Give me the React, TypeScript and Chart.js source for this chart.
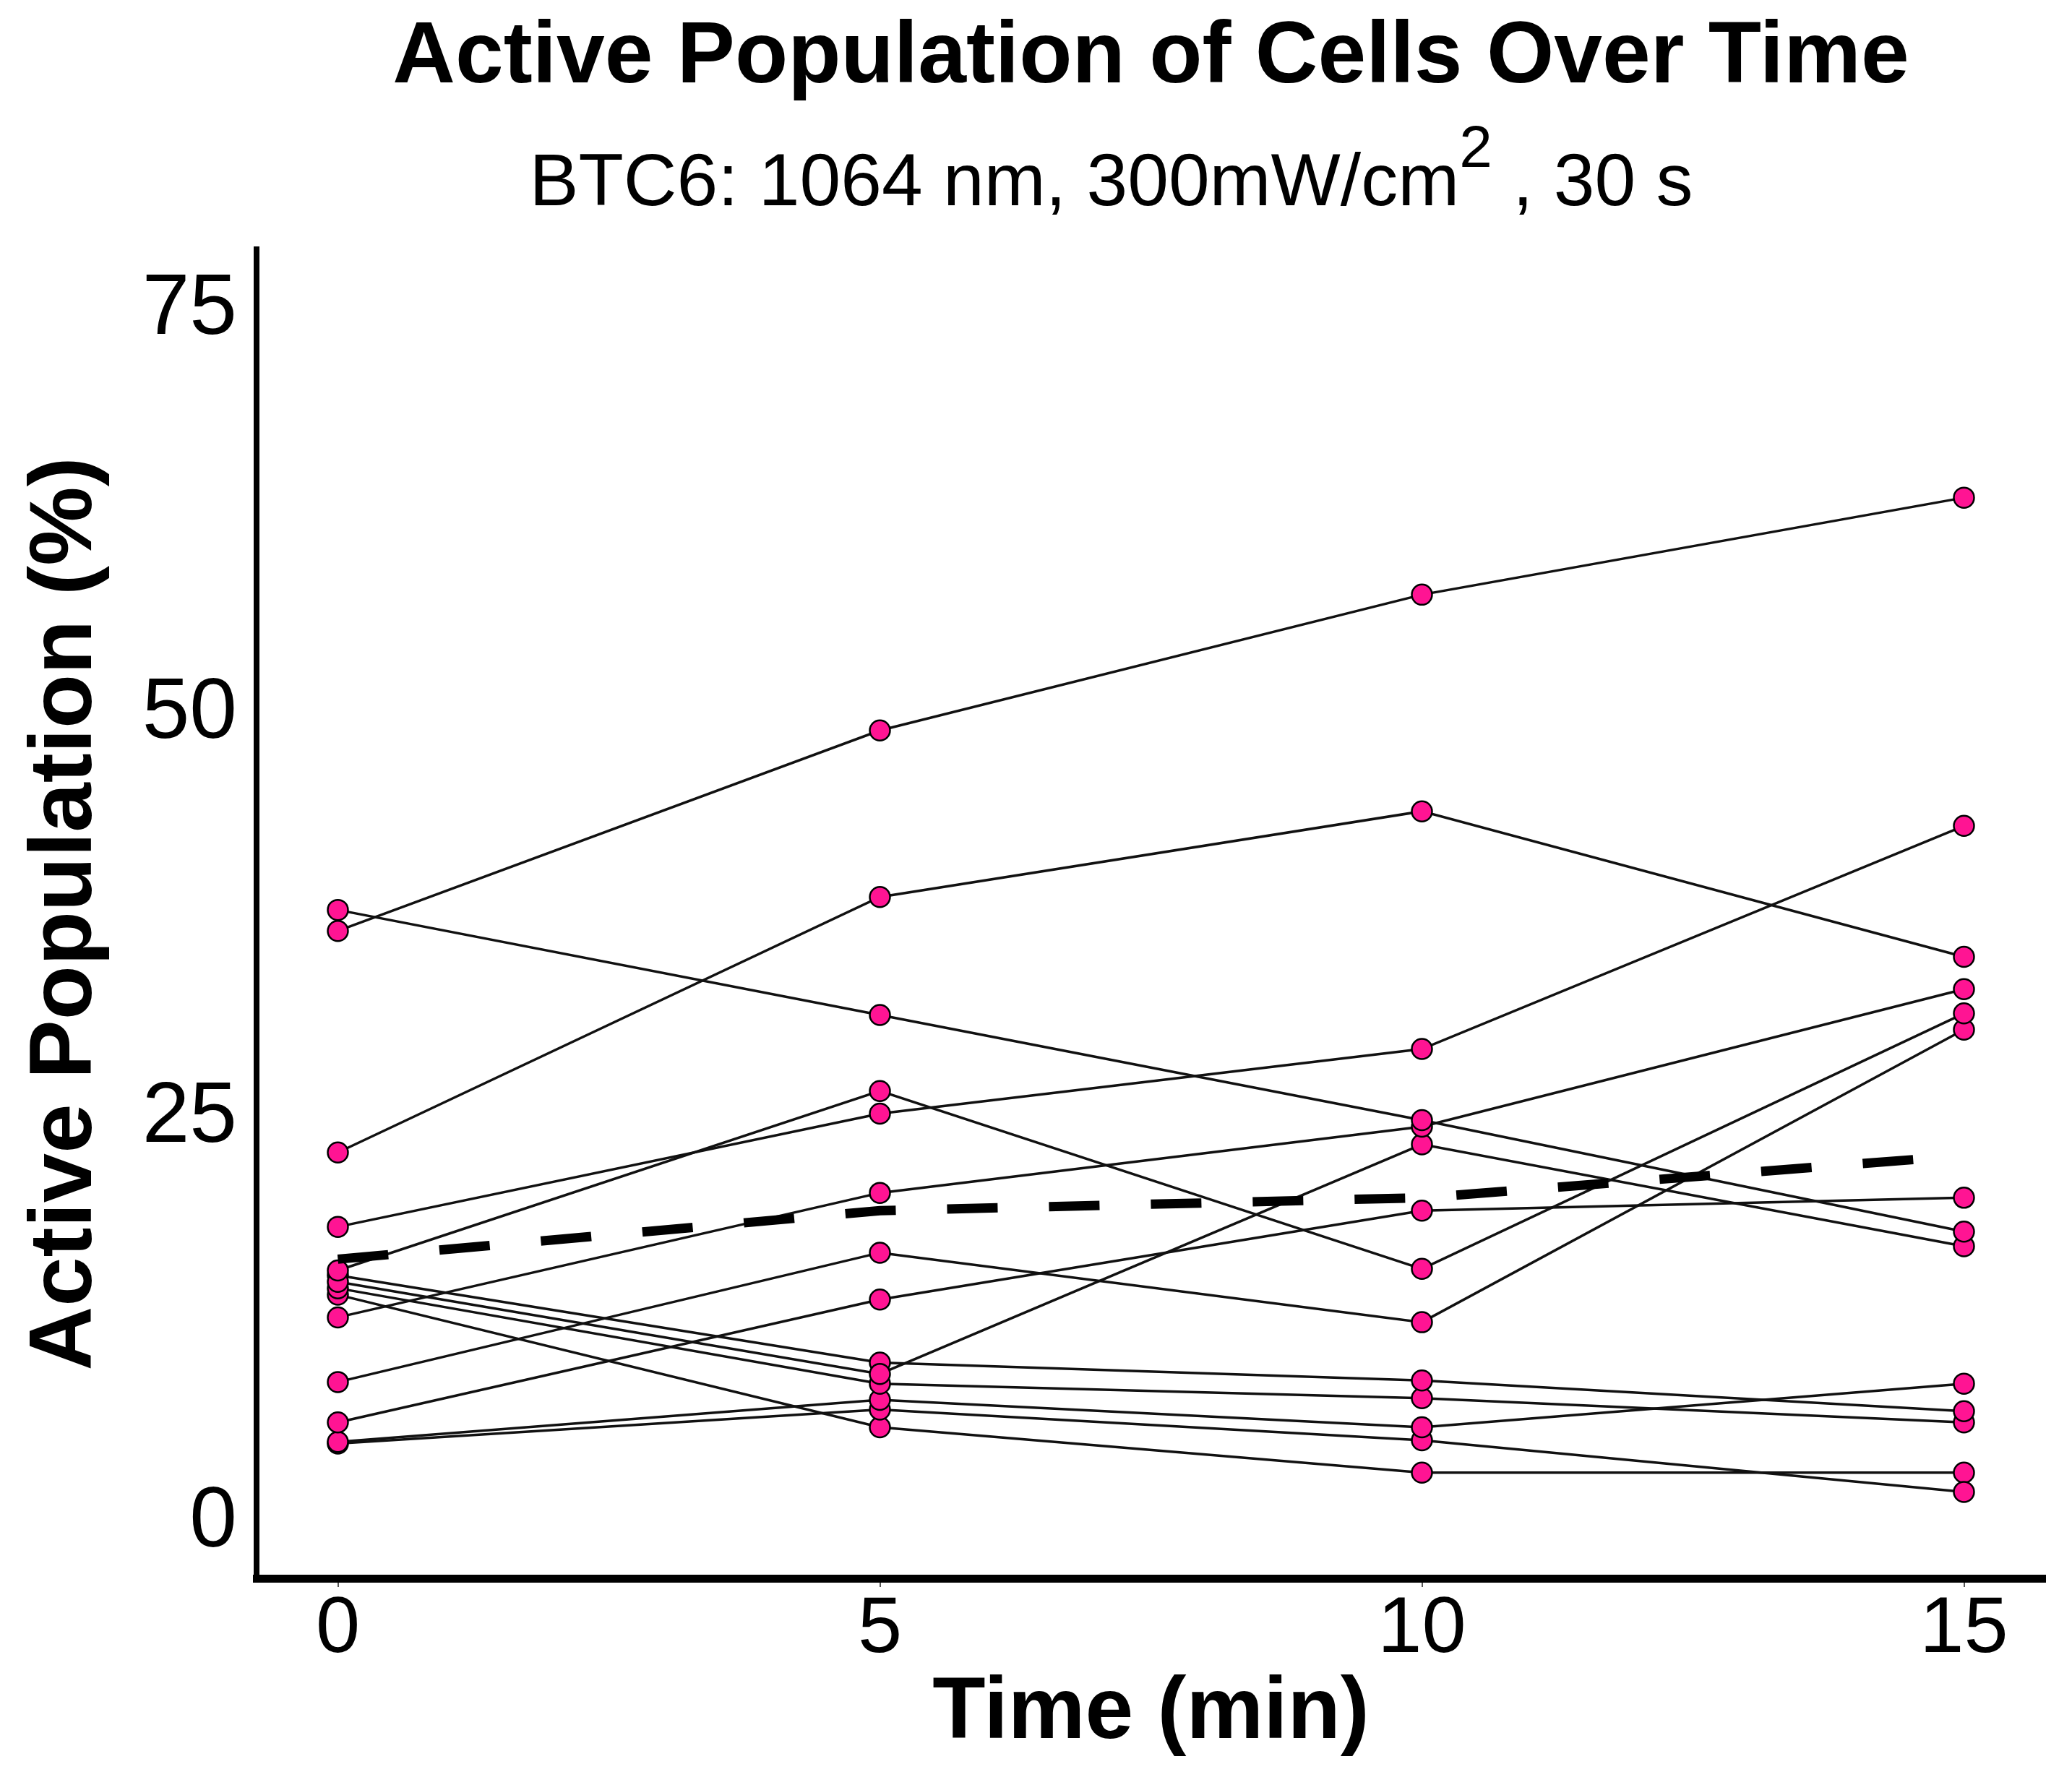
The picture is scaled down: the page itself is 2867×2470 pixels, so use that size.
import React, { useEffect, useRef } from "react";
import { Chart, registerables } from "chart.js";

Chart.register(...registerables);

// ---- data ----
const timePoints = [0, 5, 10, 15];
const xTickValues = [0, 5, 10, 15];
const yTickValues = [0, 25, 50, 75];

const cell01 = [36.6, 49.0, 57.4, 63.4];
const cell02 = [37.9, 31.4, 24.9, 18.0];
const cell03 = [18.3, 25.3, 29.3, 43.1];
const cell04 = [22.9, 38.7, 44.0, 35.0];
const cell05 = [15.6, 26.7, 15.7, 31.5];
const cell06 = [12.7, 20.4, 24.5, 33.0];
const cell07 = [8.7, 16.7, 12.4, 30.5];
const cell08 = [6.2, 13.8, 19.3, 20.1];
const cell09 = [14.9, 9.2, 23.4, 17.1];
const cell10 = [15.3, 9.9, 8.8, 6.9];
const cell11 = [14.5, 8.6, 7.7, 6.2];
const cell12 = [5.0, 7.6, 5.9, 8.6];
const cell13 = [4.9, 7.0, 5.1, 1.9];
const cell14 = [14.1, 5.9, 3.1, 3.1];
const meanValues = [16.3, 19.3, 20.1, 22.7];

const cellSeries = [
  cell01, cell02, cell03, cell04, cell05, cell06, cell07,
  cell08, cell09, cell10, cell11, cell12, cell13, cell14,
];

const titleText = "Active Population of Cells Over Time";
const subtitleParts = ["BTC6: 1064 nm, 300mW/cm", "2", " , 30 s"];
const xTitle = "Time (min)";
const yTitle = "Active Population (%)";

const FONT = '"Liberation Sans", Arial, Helvetica, sans-serif';

const toPoints = (vals: number[]) => vals.map((v, i) => ({ x: timePoints[i], y: v }));

const subtitlePlugin = {
  id: "superscriptSubtitle",
  afterDraw(chart: any) {
    const ctx = chart.ctx as CanvasRenderingContext2D;
    const area = chart.chartArea;
    ctx.save();
    const mainFont = `102px ${FONT}`;
    const supFont = `82px ${FONT}`;
    ctx.font = mainFont;
    const wA = ctx.measureText(subtitleParts[0]).width;
    const wB = ctx.measureText(subtitleParts[2]).width;
    ctx.font = supFont;
    const wS = ctx.measureText(subtitleParts[1]).width;
    const total = wA + wS + wB;
    const cx = (area.left + area.right) / 2 - 55;
    let x = cx - total / 2;
    const baseline = 284;
    ctx.fillStyle = "#000";
    ctx.textAlign = "left";
    ctx.textBaseline = "alphabetic";
    ctx.font = mainFont;
    ctx.fillText(subtitleParts[0], x, baseline);
    x += wA;
    ctx.font = supFont;
    ctx.fillText(subtitleParts[1], x, baseline - 53);
    x += wS;
    ctx.font = mainFont;
    ctx.fillText(subtitleParts[2], x, baseline);
    ctx.restore();
  },
};

export default function App() {
  const ref = useRef<HTMLCanvasElement>(null);

  useEffect(() => {
    if (!ref.current) return;
    const datasets: any[] = cellSeries.map((vals, i) => ({
      label: `Cell ${i + 1}`,
      data: toPoints(vals),
      borderColor: "#111",
      borderWidth: 3.5,
      pointRadius: 14,
      pointBackgroundColor: "#ff1493",
      pointBorderColor: "#000",
      pointBorderWidth: 2.5,
      fill: false,
      tension: 0,
      order: 1,
    }));
    datasets.push({
      label: "Mean",
      data: toPoints(meanValues),
      borderColor: "#000",
      borderWidth: 13,
      borderDash: [70, 71],
      borderCapStyle: "butt",
      pointRadius: 0,
      fill: false,
      tension: 0,
      order: 0,
    });

    const chart = new Chart(ref.current, {
      type: "line",
      data: { datasets },
      plugins: [subtitlePlugin],
      options: {
        animation: false,
        responsive: false,
        devicePixelRatio: 1,
        layout: { padding: { top: 0, left: 0, right: 37, bottom: 0 } },
        plugins: {
          legend: { display: false },
          tooltip: { enabled: false },
          title: {
            display: true,
            text: titleText,
            fullSize: false,
            color: "#000",
            font: { family: FONT, size: 120, weight: "bold", lineHeight: 1 },
            padding: { top: 21, bottom: 204 },
          },
        },
        scales: {
          x: {
            type: "linear",
            min: -0.75,
            max: 15.75,
            afterBuildTicks: (s: any) => {
              s.ticks = xTickValues.map((v) => ({ value: v }));
            },
            afterFit: (s: any) => {
              s.height = 286;
            },
            ticks: {
              color: "#000",
              font: { family: FONT, size: 110, lineHeight: 1 },
              padding: 5,
              maxRotation: 0,
              autoSkip: false,
            },
            grid: {
              display: true,
              drawOnChartArea: false,
              drawTicks: true,
              tickLength: 12,
              color: "#555",
              lineWidth: 2,
            },
            border: { display: true, color: "#000", width: 11 },
            title: {
              display: true,
              text: xTitle,
              color: "#000",
              font: { family: FONT, size: 120, weight: "bold", lineHeight: 1 },
              padding: { top: 0, bottom: 38 },
            },
          },
          y: {
            type: "linear",
            min: -3.44,
            max: 78.76,
            afterBuildTicks: (s: any) => {
              s.ticks = yTickValues.map((v) => ({ value: v }));
            },
            afterFit: (s: any) => {
              s.width = 355;
            },
            ticks: {
              color: "#000",
              font: { family: FONT, size: 118, lineHeight: 1 },
              padding: 27,
            },
            grid: { display: false, drawTicks: false },
            border: { display: true, color: "#000", width: 8 },
            title: {
              display: true,
              text: yTitle,
              color: "#000",
              font: { family: FONT, size: 123, weight: "bold", lineHeight: 1 },
              padding: { top: 31, bottom: 0 },
            },
          },
        },
      },
    } as any);

    return () => chart.destroy();
  }, []);

  return (
    <canvas
      ref={ref}
      width={2867}
      height={2470}
      style={{ position: "absolute", left: 0, top: 0, width: "2867px", height: "2470px" }}
    />
  );
}
